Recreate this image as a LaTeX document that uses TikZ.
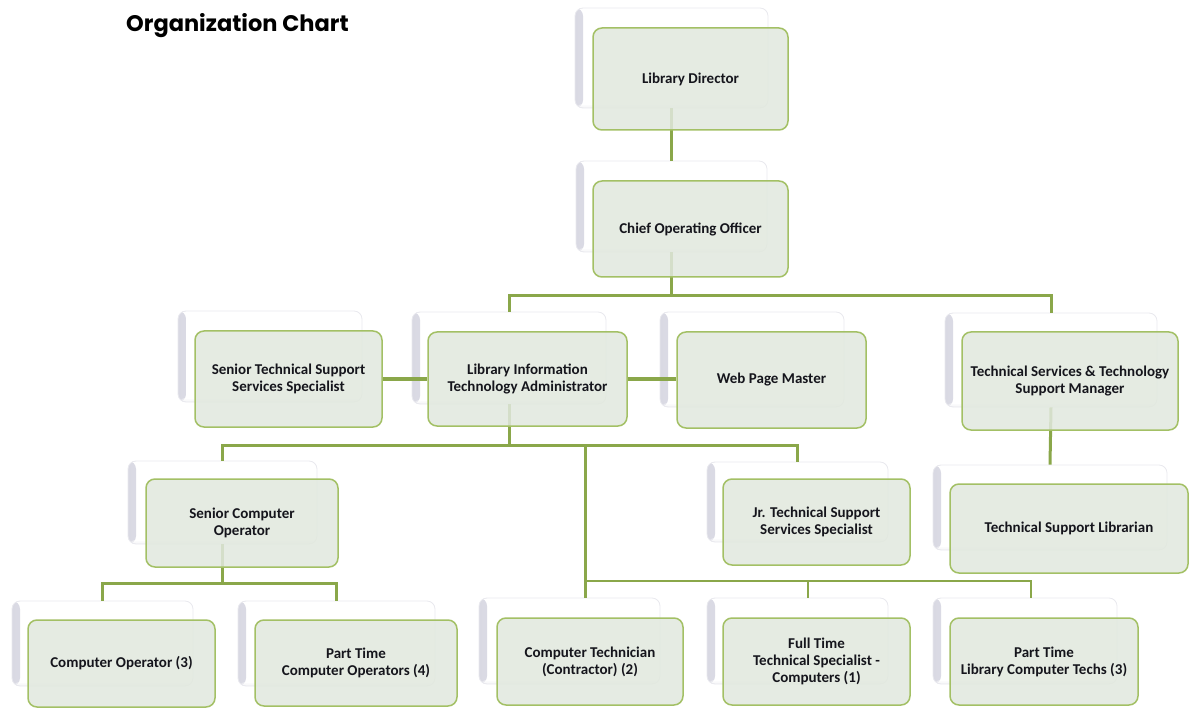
\documentclass[tikz,border=0pt]{standalone}
\usepackage{fontspec}
\setmainfont{Carlito}
\newfontfamily\titlefont{Poppins}
\definecolor{frontfill}{HTML}{E1E8DE}
\definecolor{frontborder}{HTML}{A3C065}
\definecolor{linecol}{HTML}{8AA74A}
\definecolor{backshade}{HTML}{D9D9E3}
\definecolor{backedge}{HTML}{E9E9EE}
\definecolor{txt}{HTML}{15151C}
\tikzset{
  front/.style={draw=frontborder, line width=1.5pt, fill=frontfill, fill opacity=0.86,
    draw opacity=1, text opacity=1, rounded corners=9pt, align=center, inner sep=0pt,
    text=txt, font=\fontsize{15}{17}\selectfont\bfseries},
  back/.style={draw=backedge, line width=0.8pt, fill=white, rounded corners=8pt, inner sep=0pt,
    path picture={
      \shade[left color=backshade, right color=white]
        (path picture bounding box.south west) rectangle ([xshift=8pt]path picture bounding box.north west);
      \shade[bottom color=backshade!60, top color=white, opacity=0.5]
        (path picture bounding box.south west) rectangle ([yshift=4pt]path picture bounding box.south east);
    }},
  conn/.style={draw=linecol, line width=3pt},
  thinconn/.style={draw=linecol, line width=2pt}
}
\begin{document}
\begin{tikzpicture}[x=1pt,y=-1pt]
\useasboundingbox (0,0) rectangle (1191,708);
% title
\node[anchor=base west, inner sep=0pt, font=\titlefont\bfseries\fontsize{22.5}{25}\selectfont] (title) at (126,32) {Organization Chart};
% back boxes
\node[back, minimum width=193pt, minimum height=100pt] (ldb) at (671.5,58) {};
\node[back, minimum width=191pt, minimum height=91pt] (coob) at (671.5,206.5) {};
\node[back, minimum width=184pt, minimum height=91pt] (stsssb) at (270,356.5) {};
\node[back, minimum width=194pt, minimum height=92pt] (litab) at (509,358) {};
\node[back, minimum width=184pt, minimum height=95pt] (wpmb) at (752,359.5) {};
\node[back, minimum width=212pt, minimum height=94pt] (tstsmb) at (1051,360) {};
\node[back, minimum width=234pt, minimum height=85pt] (tslb) at (1050,507.5) {};
\node[back, minimum width=189pt, minimum height=83pt] (scob) at (222.5,502.5) {};
\node[back, minimum width=181pt, minimum height=80pt] (jrb) at (797.5,502) {};
\node[back, minimum width=181pt, minimum height=85pt] (co3b) at (102.5,643.5) {};
\node[back, minimum width=197pt, minimum height=85pt] (pt4b) at (336.5,643.5) {};
\node[back, minimum width=181pt, minimum height=86pt] (ctb) at (569.5,641) {};
\node[back, minimum width=181pt, minimum height=86pt] (ftb) at (797.5,641) {};
\node[back, minimum width=184pt, minimum height=86pt] (ptlb) at (1025,641) {};
% junction coordinates
\coordinate (bus1) at (671.5,296);
\coordinate (bus2) at (509,445);
\coordinate (ctj) at (585,445);
\coordinate (bus3) at (585,581);
\coordinate (ftj) at (808,581);
\coordinate (ptj) at (1031,581);
\coordinate (bus4) at (222.5,583);
% connectors
\draw[conn] (ldb.south) -- (coob.north);
\draw[conn] (coob.south) -- (bus1);
\draw[conn] (litab.north) |- (bus1) -| (tstsmb.north);
\draw[conn] (litab.south) -- (bus2);
\draw[conn] (scob.north) |- (bus2) -| (jrb.north);
\draw[conn] (ctj) -- (ctj |- ctb.north);
\draw[thinconn] (bus3) -- (ptj) -- (ptj |- ptlb.north);
\draw[thinconn] (ftj) -- (ftj |- ftb.north);
\draw[conn] (scob.south) -- (bus4);
\draw[conn] (co3b.north) |- (bus4) -| (pt4b.north);
\draw[conn] (tstsmb.south) -- (tslb.north);
% front boxes
\node[front, minimum width=195pt, minimum height=102pt] (ld) at (690.5,79) {Library Director};
\node[front, minimum width=195pt, minimum height=96pt] (coo) at (690.5,229) {Chief Operating Officer};
\node[front, minimum width=187pt, minimum height=96pt] (stsss) at (288.5,379) {Senior Technical Support\\Services Specialist};
\node[front, minimum width=199pt, minimum height=94pt] (lita) at (527.5,379) {Library Information\\Technology Administrator};
\node[front, minimum width=189pt, minimum height=96pt] (wpm) at (771.5,380) {Web Page Master};
\node[front, minimum width=216pt, minimum height=98pt] (tstsm) at (1070,381) {Technical Services \& Technology\\Support Manager};
\node[front, minimum width=238pt, minimum height=89pt] (tsl) at (1069,528.5) {Technical Support Librarian};
\node[front, minimum width=192pt, minimum height=88pt] (sco) at (242,523) {Senior Computer\\Operator};
\node[front, minimum width=187pt, minimum height=86pt] (jr) at (816.5,522) {Jr. Technical Support\\Services Specialist};
\node[front, minimum width=187pt, minimum height=87pt] (co3) at (121.5,663.5) {Computer Operator (3)};
\node[front, minimum width=202pt, minimum height=86pt] (pt4) at (356,663) {Part Time\\Computer Operators (4)};
\node[front, minimum width=186pt, minimum height=87pt] (ct) at (590,661.5) {Computer Technician\\(Contractor) (2)};
\node[front, minimum width=187pt, minimum height=87pt] (ft) at (816.5,661.5) {Full Time\\Technical Specialist -\\Computers (1)};
\node[front, minimum width=188pt, minimum height=87pt] (ptl) at (1044,661.5) {Part Time\\Library Computer Techs (3)};
% side links
\draw[conn] (stsss.east) -- (lita.west);
\draw[conn] (lita.east) -- (lita.east -| wpm.west);
\end{tikzpicture}
\end{document}
